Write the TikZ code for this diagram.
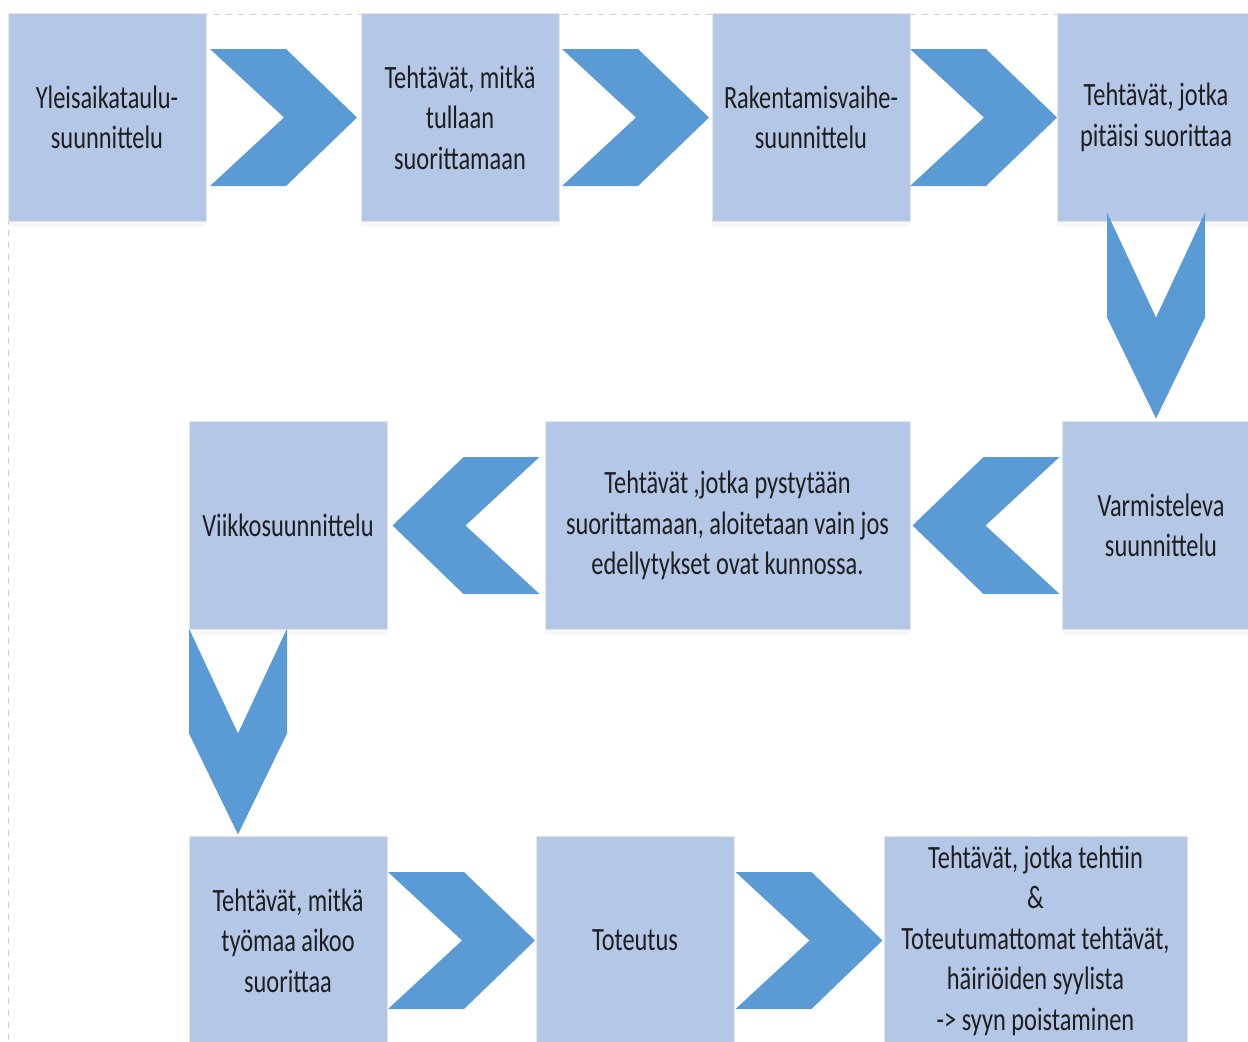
\documentclass[tikz,border=0pt]{standalone}
\usepackage{fontspec}
\setmainfont{Carlito}[FakeStretch=0.75]
\usetikzlibrary{positioning, calc, shadows}

\definecolor{boxblue}{HTML}{B4C7E7}
\definecolor{chevblue}{HTML}{5B9BD5}
\definecolor{txtgray}{HTML}{1E1E1E}

\begin{document}
\begin{tikzpicture}[x=0.5pt,y=-0.5pt,semithick]

	\tikzstyle{every node}=[font=\fontsize{16.25pt}{20.25pt}\selectfont, text=txtgray]
	
	\tikzstyle{box}=[rectangle,thin,draw=black!10,fill=boxblue,minimum width=99pt,minimum height=104pt,inner sep=1pt,outer sep=0pt,align=center,drop shadow={shadow xshift=0pt,shadow yshift=-2pt,opacity=0.07}]
	\tikzstyle{wide box}=[box,minimum width=182.5pt]
	\tikzstyle{chev}=[fill=chevblue,draw=none]
	\tikzstyle{frame}=[thin,dashed,draw=black!20]
	
	\tikzset{
		pics/chevright/.style={code={\fill[chev] (-73.5,-68.5) -- (2.5,-68.5) -- (73.5,0) -- (2.5,68.5) -- (-73.5,68.5) -- (0.5,0) -- cycle;}},
		pics/chevdown/.style={code={\fill[chev] (-49,-103) -- (0,2) -- (49,-103) -- (49,2) -- (0,103) -- (-49,2) -- cycle;}}
	}
	
	\path[use as bounding box, clip] (0,0) rectangle (1248,1041);
	\draw[frame] (8,14) rectangle (1270,1060);
	
	% ylarivi
	\node[box] (B1) at (107,117.5) {Yleisaikataulu-\\suunnittelu};
	\node[box] (B2) [right=77.5pt of B1] {Tehtävät, mitkä\\tullaan\\suorittamaan};
	\node[box] (B3) [right=76.5pt of B2] {Rakentamisvaihe-\\suunnittelu};
	\node[box] (B4) [right=73.5pt of B3] {Tehtävät, jotka\\pitäisi suorittaa};
	
	% keskirivi
	\node[box] (B5) [below=100pt of B4, xshift=2.5pt] {Varmisteleva\\suunnittelu};
	\node[wide box] (B6) [left=76pt of B5] {Tehtävät ,jotka pystytään\\suorittamaan, aloitetaan vain jos\\edellytykset ovat kunnossa.};
	\node[box] (B7) [left=79pt of B6] {Viikkosuunnittelu};
	
	% alarivi
	\node[box] (B8) [below=103.5pt of B7] {Tehtävät, mitkä\\työmaa aikoo\\suorittaa};
	\node[box] (B9) [right=74.5pt of B8] {Toteutus};
	\node[box, minimum width=151.5pt] (B10) [right=75pt of B9] {Tehtävät, jotka tehtiin\\\&\\Toteutumattomat tehtävät,\\häiriöiden syylista\\-> syyn poistaminen};
	
	\pic at ($(B1.east)!.5!(B2.west)$) {chevright};
	\pic at ($(B2.east)!.5!(B3.west)$) {chevright};
	\pic at ($(B3.east)!.5!(B4.west)$) {chevright};
	\pic at ([yshift=-47pt]B4.south) {chevdown};
	\pic[rotate=180] at ($(B6.east)!.5!(B5.west)$) {chevright};
	\pic[rotate=180] at ($(B7.east)!.5!(B6.west)$) {chevright};
	\pic at ([xshift=24.5pt,yshift=-51pt]B7.south west) {chevdown};
	\pic at ($(B8.east)!.5!(B9.west)$) {chevright};
	\pic at ($(B9.east)!.5!(B10.west)$) {chevright};
	
\end{tikzpicture}
\end{document}
